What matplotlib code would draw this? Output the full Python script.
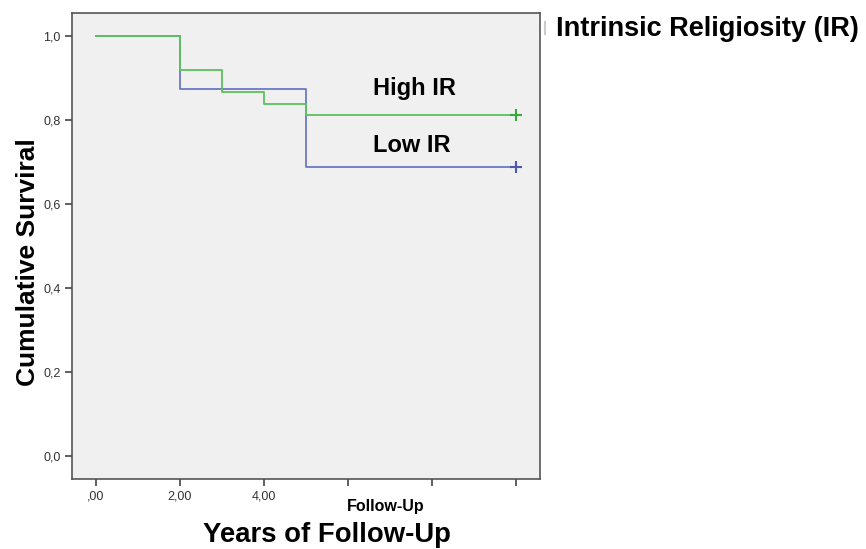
import matplotlib
matplotlib.use("Agg")
import matplotlib.pyplot as plt

# Data
high_t = [0, 2, 3, 4, 5, 10]
high_s = [1.0, 0.919, 0.866, 0.839, 0.811, 0.811]
low_t = [0, 2, 5, 10]
low_s = [1.0, 0.875, 0.688, 0.688]
xticks = [0, 2, 4, 6, 8, 10]
xticklabels = [",00", "2,00", "4,00", "", "", ""]
yticks = [0.0, 0.2, 0.4, 0.6, 0.8, 1.0]
yticklabels = ["0,0", "0,2", "0,4", "0,6", "0,8", "1,0"]

W, H = 866, 549
fig = plt.figure(figsize=(W / 100, H / 100), dpi=100)
fig.patch.set_facecolor("white")
l, r, t, b = 72, 540, 13, 479
ax = fig.add_axes([l / W, 1 - b / H, (r - l) / W, (b - t) / H])
ax.set_facecolor("#f0f0f0")
ax.set_xlim(-0.57, 10.57)
ax.set_ylim(-0.055, 1.055)

green = "#5cc15c"
blue = "#6a7ac4"
ax.step(high_t, high_s, where="post", color=green, lw=1.3, zorder=3)
ax.step(low_t, low_s, where="post", color=blue, lw=1.3, zorder=2)
ax.plot([high_t[-1]], [high_s[-1]], marker="+", color="#3aa83a", ms=8, mew=1.5, zorder=4)
ax.plot([low_t[-1]], [low_s[-1]], marker="+", color="#4a5aae", ms=8, mew=1.5, zorder=4)

font = "Liberation Sans"
ax.text(6.6, 0.875, "High IR", fontsize=17, fontweight="bold", family=font, ha="left", va="center")
ax.text(6.6, 0.74, "Low IR", fontsize=17, fontweight="bold", family=font, ha="left", va="center")

ax.set_xticks(xticks)
ax.set_xticklabels(xticklabels, fontsize=9, family=font, color="#333333")
ax.set_yticks(yticks)
ax.set_yticklabels(yticklabels, fontsize=9, family=font, color="#333333")
ax.tick_params(axis="both", length=5, width=1.2, color="#444444", pad=3)
for s in ax.spines.values():
    s.set_color("#555555")
    s.set_linewidth(1.2)

fig.text(28 / W, 1 - 262 / H, "Cumulative Surviral", rotation=90, fontsize=19,
         fontweight="bold", family=font, ha="center", va="center")
fig.text(386 / W, 1 - 506 / H, "Follow-Up", fontsize=11.5, fontweight="bold",
         family=font, ha="center", va="center")
fig.text(327 / W, 1 - 535 / H, "Years of Follow-Up", fontsize=19.8, fontweight="bold",
         family=font, ha="center", va="center")
fig.text(556 / W, 1 - 29 / H, "Intrinsic Religiosity (IR)", fontsize=19.5, fontweight="bold",
         family=font, ha="left", va="center")
fig.add_artist(plt.Line2D([545 / W, 545 / W], [1 - 22 / H, 1 - 34 / H], color="#cccccc", lw=1.5))

fig.savefig("out.png", dpi=100)
